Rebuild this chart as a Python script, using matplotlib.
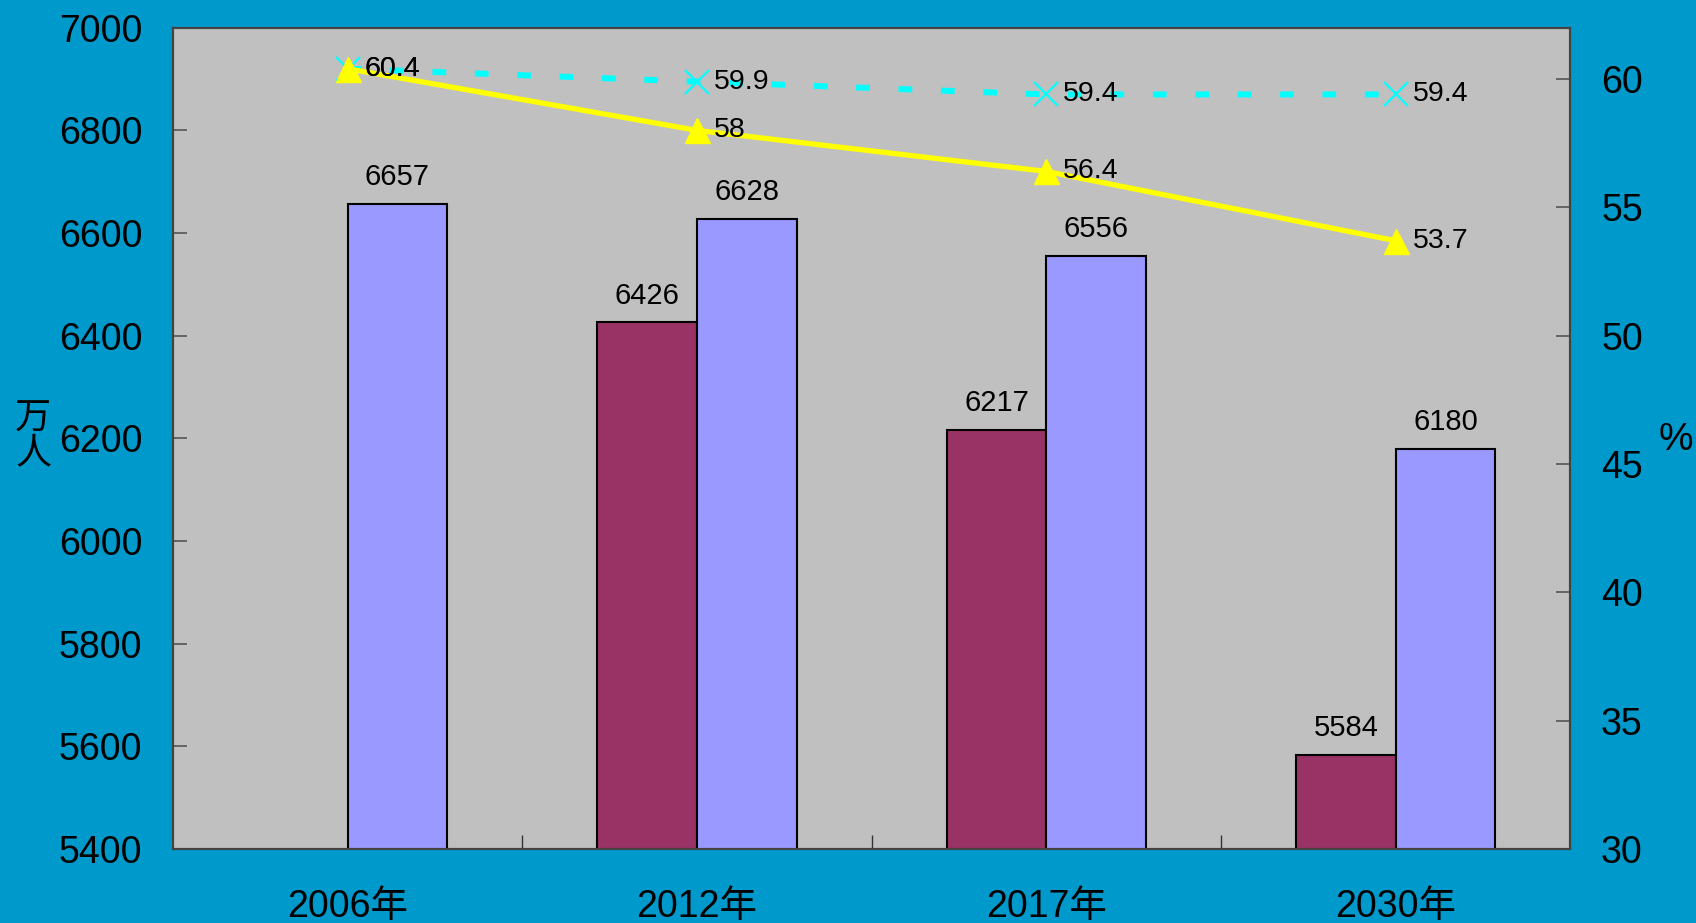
import matplotlib.pyplot as plt
import numpy as np

plt.rcParams['font.family'] = ['Liberation Sans', 'Noto Sans CJK SC']

# Data
years = ['2006年', '2012年', '2017年', '2030年']
series_a = [np.nan, 6426, 6217, 5584]   # maroon bars (no value for 2006)
series_b = [6657, 6628, 6556, 6180]     # lavender bars
rate_solid = [60.4, 58, 56.4, 53.7]     # yellow line, %
rate_dashed = [60.4, 59.9, 59.4, 59.4]  # cyan dashed line, %

bg = '#0099CC'
x = np.arange(len(years))
w = 0.285

fig = plt.figure(figsize=(16.96, 9.23), dpi=100, facecolor=bg)
ax1 = fig.add_axes([0.102, 0.080, 0.824, 0.890])
ax1.set_facecolor('#C0C0C0')

bars_a = ax1.bar(x - w / 2, series_a, w, color='#993366', edgecolor='black', linewidth=1.5, zorder=2)
bars_b = ax1.bar(x + w / 2, series_b, w, color='#9999FF', edgecolor='black', linewidth=1.5, zorder=2)

for bars in (bars_a, bars_b):
    for b in bars:
        h = b.get_height()
        if np.isnan(h):
            continue
        ax1.annotate(f'{h:.0f}', (b.get_x() + b.get_width() / 2, h), xytext=(0, 9),
                     textcoords='offset points', ha='center', va='bottom', fontsize=21, color='black')

ax1.set_xlim(-0.5, 3.5)
ax1.set_ylim(5400, 7000)
ax1.set_yticks(np.arange(5400, 7001, 200))
ax1.set_xticks(x)
ax1.set_xticklabels(years)
ax1.set_xticks([0.5, 1.5, 2.5], minor=True)
ax1.tick_params(axis='x', which='major', length=0, pad=29, labelsize=27)
ax1.tick_params(axis='x', which='minor', direction='in', length=10, width=1, color='#333333')
ax1.tick_params(axis='y', direction='in', length=10, width=1.2, color='#555555', pad=22, labelsize=27)
for s in ax1.spines.values():
    s.set_color('#444444')
    s.set_linewidth(1.5)

ax2 = ax1.twinx()
ax2.patch.set_visible(False)
ax2.set_ylim(30, 62)
ax2.set_yticks(np.arange(30, 61, 5))
ax2.tick_params(axis='y', direction='in', length=10, width=1.2, color='#555555', pad=22, labelsize=27)
for s in ax2.spines.values():
    s.set_color('#444444')
    s.set_linewidth(1.5)

ax2.plot(x, rate_dashed, color='#00FFFF', linewidth=4.3, dashes=(2.3, 4.8), dash_capstyle='butt',
         marker='x', markersize=17, markeredgewidth=1.6, zorder=3)
ax2.plot(x, rate_solid, color='#FFFF00', linewidth=3.8, marker='^', markersize=18, zorder=4)

for xi, v in zip(x, rate_dashed):
    ax2.annotate(f'{v:g}', (xi, v), xytext=(12, 0), textcoords='offset points',
                 ha='left', va='center', fontsize=20.5, color='black', zorder=5)
for xi, v in zip(x, rate_solid):
    ax2.annotate(f'{v:g}', (xi, v), xytext=(12, 0), textcoords='offset points',
                 ha='left', va='center', fontsize=20.5, color='black', zorder=5)

fig.text(0.0195, 0.527, '万\n人', ha='center', va='center', fontsize=26, linespacing=1.0)
fig.text(0.988, 0.523, '%', ha='center', va='center', fontsize=28)

fig.savefig('out.png', dpi=100, facecolor=bg)
